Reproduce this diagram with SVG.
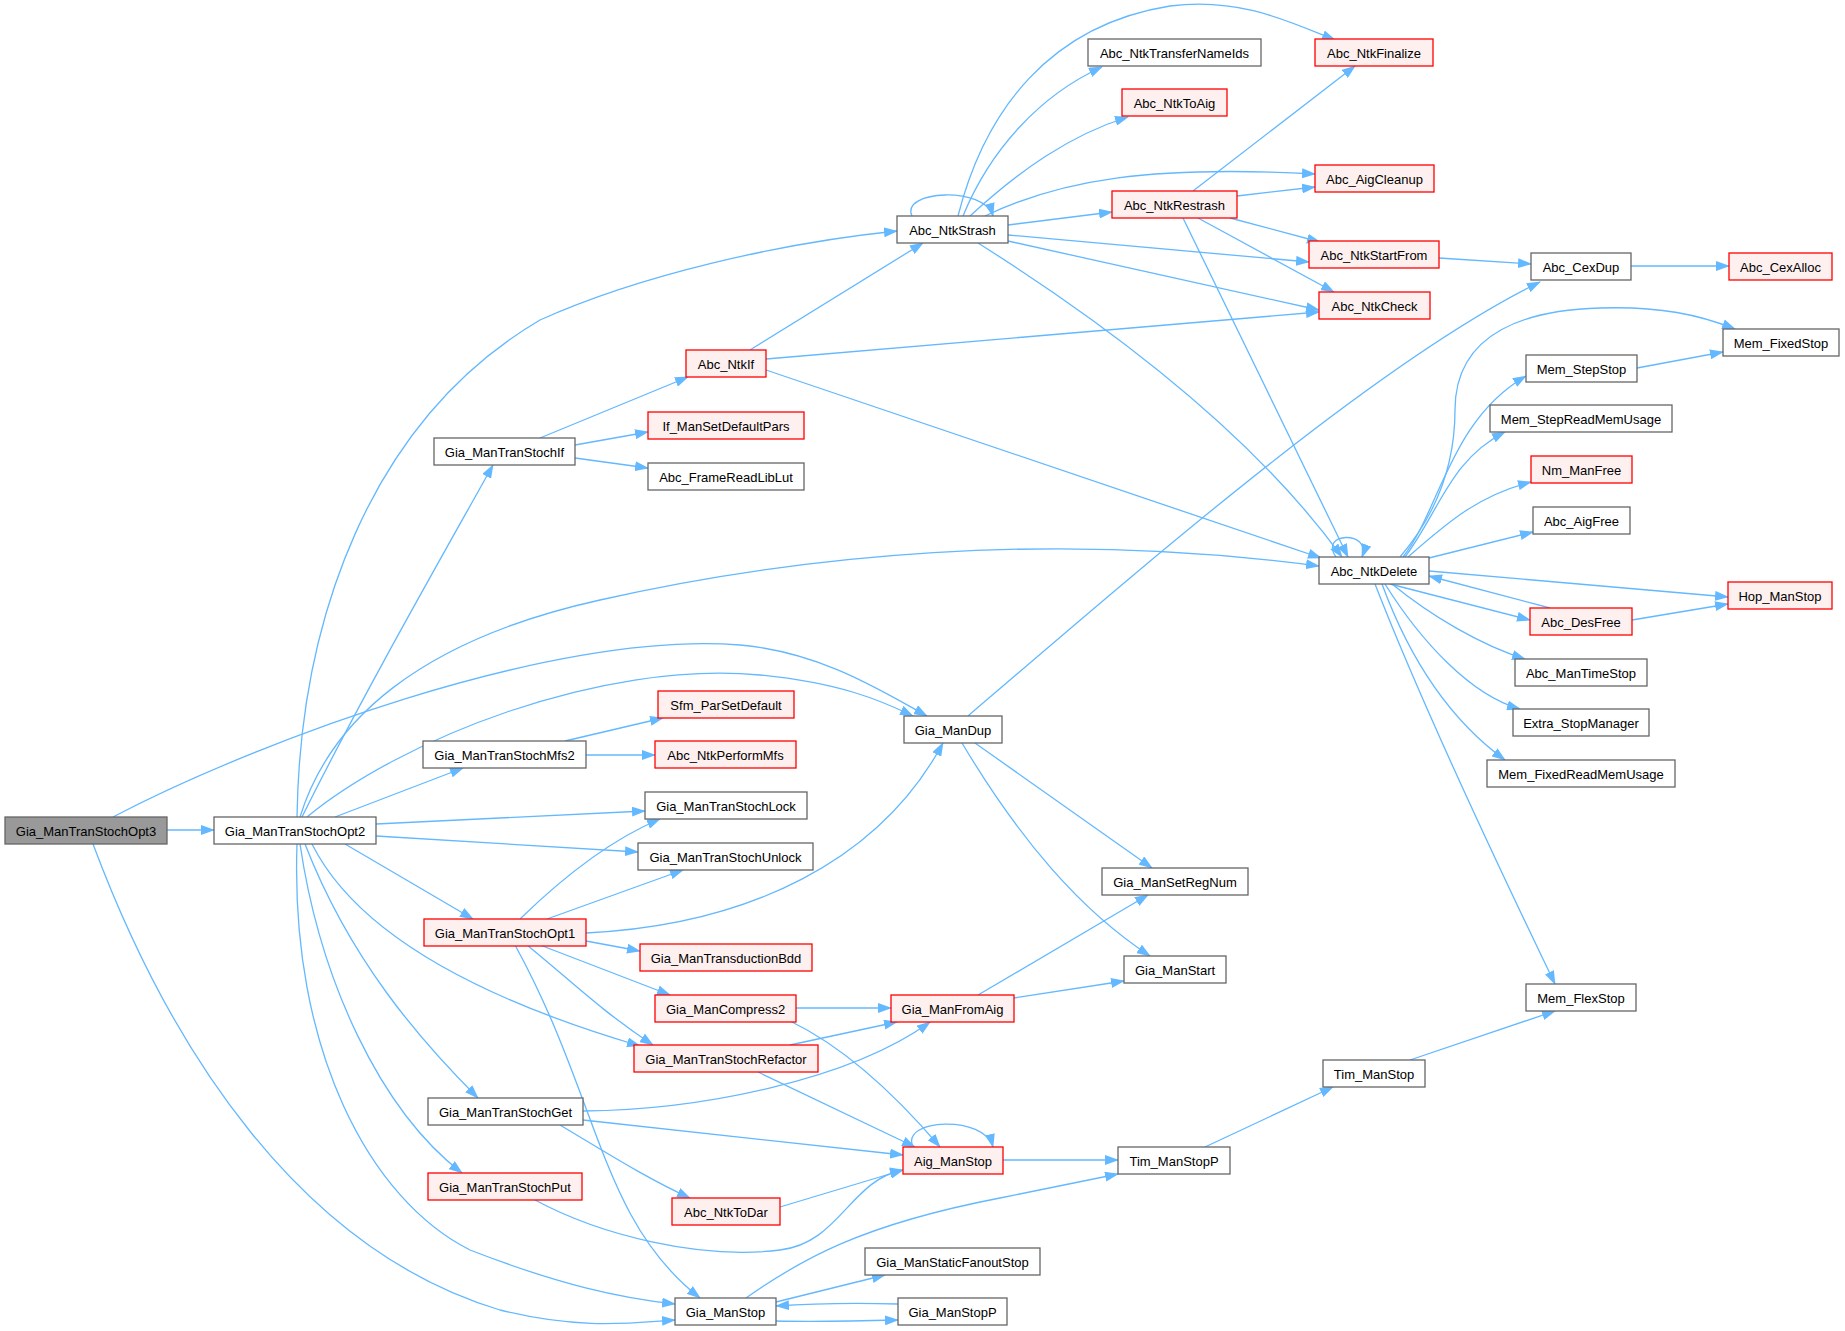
<svg xmlns="http://www.w3.org/2000/svg" width="1845" height="1331" viewBox="0 0 1845 1331">
<defs>
<marker id="a" markerUnits="userSpaceOnUse" markerWidth="14" markerHeight="10" refX="13" refY="5" orient="auto"><path d="M0,0 L14,5 L0,10 z" fill="#63B8FF"/></marker>
<style>
.node rect{fill:#fff;stroke:#666;stroke-width:1.3}
.red rect{fill:#FFF0F0;stroke:#FF0000}
.root rect{fill:#999}
.node text{font-family:"Liberation Sans",Arial,Helvetica,sans-serif;font-size:13px;text-anchor:middle;fill:#000}
#edges path{fill:none;stroke:#63B8FF;stroke-width:1.3;marker-end:url(#a)}
</style>
</defs>
<rect width="1845" height="1331" fill="#fff"/>
<g id="edges">
<path d="M167,830 L214,830"/>
<path d="M113,817 C250,745 550,630 740,645 C820,652 880,690 927,716"/>
<path d="M307,817 C400,740 600,660 760,675 C840,683 880,700 913,716"/>
<path d="M300,817 C330,720 420,640 600,600 C800,555 1050,530 1319,566"/>
<path d="M297,817 C300,620 370,420 540,320 C640,275 780,243 897,231"/>
<path d="M302,817 C360,700 440,560 493,465"/>
<path d="M335,817 L463,768"/>
<path d="M376,824 L645,811"/>
<path d="M376,836 L638,852"/>
<path d="M345,844 L473,919"/>
<path d="M312,844 C350,920 450,990 640,1046"/>
<path d="M305,844 C350,960 420,1040 478,1098"/>
<path d="M300,844 C320,980 380,1110 462,1173"/>
<path d="M297,844 C290,1050 370,1200 470,1250 C560,1285 620,1298 675,1304"/>
<path d="M93,844 C170,1050 300,1250 500,1310 C580,1330 630,1323 675,1320"/>
<path d="M520,919 C560,880 610,840 660,819"/>
<path d="M547,919 L683,870"/>
<path d="M586,933 C750,925 880,860 943,743"/>
<path d="M586,941 L640,951"/>
<path d="M540,945 L670,995"/>
<path d="M527,945 C570,980 600,1010 653,1045"/>
<path d="M515,945 C600,1100 600,1220 700,1298"/>
<path d="M796,1008 L891,1008"/>
<path d="M790,1021 C850,1050 900,1100 940,1147"/>
<path d="M790,1045 L897,1022"/>
<path d="M758,1072 L915,1147"/>
<path d="M583,1111 C700,1110 850,1080 930,1022"/>
<path d="M583,1120 L903,1155"/>
<path d="M560,1125 C610,1155 650,1180 690,1198"/>
<path d="M535,1200 C600,1235 700,1260 780,1250 C840,1243 850,1180 903,1170"/>
<path d="M780,1207 L903,1170"/>
<path d="M913,1147 C900,1118 985,1115 993,1147"/>
<path d="M1003,1160 L1118,1160"/>
<path d="M746,1298 C800,1260 860,1225 1000,1198 C1050,1188 1090,1180 1118,1174"/>
<path d="M776,1302 L885,1275"/>
<path d="M776,1321 C820,1322 860,1321 898,1320"/>
<path d="M898,1304 C860,1303 820,1303 776,1306"/>
<path d="M1205,1147 L1333,1087"/>
<path d="M1410,1060 L1555,1011"/>
<path d="M978,995 L1148,895"/>
<path d="M1014,998 L1124,981"/>
<path d="M968,716 C1150,560 1380,360 1540,282"/>
<path d="M975,743 L1152,868"/>
<path d="M962,743 C1020,840 1080,910 1150,956"/>
<path d="M565,741 L663,718"/>
<path d="M586,755 L655,755"/>
<path d="M540,438 L688,377"/>
<path d="M575,445 L648,432"/>
<path d="M575,458 L648,468"/>
<path d="M750,350 L923,243"/>
<path d="M766,359 L1319,312"/>
<path d="M766,370 L1321,558"/>
<path d="M912,216 C900,190 985,186 993,216"/>
<path d="M963,216 C990,150 1040,95 1102,67"/>
<path d="M970,216 C1020,170 1070,135 1128,117"/>
<path d="M958,216 C985,110 1050,25 1170,6 C1240,-3 1290,22 1335,40"/>
<path d="M985,216 C1060,180 1150,165 1315,174"/>
<path d="M1008,225 L1112,212"/>
<path d="M1008,235 L1309,262"/>
<path d="M1008,241 L1319,310"/>
<path d="M978,243 C1100,320 1250,430 1342,557"/>
<path d="M1193,191 L1355,66"/>
<path d="M1237,196 L1315,187"/>
<path d="M1230,218 L1320,242"/>
<path d="M1198,218 L1334,292"/>
<path d="M1183,218 L1348,557"/>
<path d="M1439,258 L1531,264"/>
<path d="M1631,266 L1729,266"/>
<path d="M1336,557 C1318,532 1372,530 1362,557"/>
<path d="M1400,557 C1440,510 1455,460 1455,410 C1455,330 1530,310 1600,308 C1660,306 1700,315 1735,329"/>
<path d="M1403,557 C1440,510 1450,420 1526,376"/>
<path d="M1405,557 C1440,510 1450,460 1505,432"/>
<path d="M1408,557 C1450,520 1480,495 1531,482"/>
<path d="M1429,558 L1533,532"/>
<path d="M1429,571 L1728,597"/>
<path d="M1390,584 L1530,620"/>
<path d="M1550,608 L1429,576"/>
<path d="M1392,584 C1430,615 1480,645 1525,659"/>
<path d="M1385,584 C1420,640 1470,695 1520,709"/>
<path d="M1382,584 C1410,660 1450,720 1505,760"/>
<path d="M1375,584 C1420,700 1500,870 1555,984"/>
<path d="M1632,620 L1728,604"/>
<path d="M1637,368 L1723,352"/>
</g>
<g id="n1" class="node root"><rect x="5" y="817" width="162" height="27"/><text x="86" y="835.5">Gia_ManTranStochOpt3</text></g>
<g id="n2" class="node"><rect x="214" y="817" width="162" height="27"/><text x="295" y="835.5">Gia_ManTranStochOpt2</text></g>
<g id="n3" class="node"><rect x="434" y="438" width="141" height="27"/><text x="504.5" y="456.5">Gia_ManTranStochIf</text></g>
<g id="n4" class="node red"><rect x="686" y="350" width="80" height="27"/><text x="726" y="368.5">Abc_NtkIf</text></g>
<g id="n5" class="node red"><rect x="648" y="412" width="156" height="27"/><text x="726" y="430.5">If_ManSetDefaultPars</text></g>
<g id="n6" class="node"><rect x="648" y="463" width="156" height="27"/><text x="726" y="481.5">Abc_FrameReadLibLut</text></g>
<g id="n7" class="node"><rect x="897" y="216" width="111" height="27"/><text x="952.5" y="234.5">Abc_NtkStrash</text></g>
<g id="n8" class="node"><rect x="1088" y="39" width="173" height="27"/><text x="1174.5" y="57.5">Abc_NtkTransferNameIds</text></g>
<g id="n9" class="node red"><rect x="1122" y="89" width="105" height="27"/><text x="1174.5" y="107.5">Abc_NtkToAig</text></g>
<g id="n10" class="node red"><rect x="1315" y="39" width="118" height="27"/><text x="1374" y="57.5">Abc_NtkFinalize</text></g>
<g id="n11" class="node red"><rect x="1112" y="191" width="125" height="27"/><text x="1174.5" y="209.5">Abc_NtkRestrash</text></g>
<g id="n12" class="node red"><rect x="1315" y="165" width="119" height="27"/><text x="1374.5" y="183.5">Abc_AigCleanup</text></g>
<g id="n13" class="node red"><rect x="1309" y="241" width="130" height="27"/><text x="1374" y="259.5">Abc_NtkStartFrom</text></g>
<g id="n14" class="node red"><rect x="1319" y="292" width="111" height="27"/><text x="1374.5" y="310.5">Abc_NtkCheck</text></g>
<g id="n15" class="node"><rect x="1531" y="253" width="100" height="27"/><text x="1581" y="271.5">Abc_CexDup</text></g>
<g id="n16" class="node red"><rect x="1729" y="253" width="103" height="27"/><text x="1780.5" y="271.5">Abc_CexAlloc</text></g>
<g id="n17" class="node"><rect x="1723" y="329" width="116" height="27"/><text x="1781" y="347.5">Mem_FixedStop</text></g>
<g id="n18" class="node"><rect x="1526" y="355" width="111" height="27"/><text x="1581.5" y="373.5">Mem_StepStop</text></g>
<g id="n19" class="node"><rect x="1490" y="405" width="182" height="27"/><text x="1581" y="423.5">Mem_StepReadMemUsage</text></g>
<g id="n20" class="node red"><rect x="1531" y="456" width="101" height="27"/><text x="1581.5" y="474.5">Nm_ManFree</text></g>
<g id="n21" class="node"><rect x="1533" y="507" width="97" height="27"/><text x="1581.5" y="525.5">Abc_AigFree</text></g>
<g id="n22" class="node"><rect x="1319" y="557" width="110" height="27"/><text x="1374" y="575.5">Abc_NtkDelete</text></g>
<g id="n23" class="node red"><rect x="1728" y="582" width="104" height="27"/><text x="1780" y="600.5">Hop_ManStop</text></g>
<g id="n24" class="node red"><rect x="1530" y="608" width="102" height="27"/><text x="1581" y="626.5">Abc_DesFree</text></g>
<g id="n25" class="node"><rect x="1515" y="659" width="132" height="27"/><text x="1581" y="677.5">Abc_ManTimeStop</text></g>
<g id="n26" class="node"><rect x="1513" y="709" width="136" height="27"/><text x="1581" y="727.5">Extra_StopManager</text></g>
<g id="n27" class="node"><rect x="1487" y="760" width="188" height="27"/><text x="1581" y="778.5">Mem_FixedReadMemUsage</text></g>
<g id="n28" class="node"><rect x="1526" y="984" width="110" height="27"/><text x="1581" y="1002.5">Mem_FlexStop</text></g>
<g id="n29" class="node"><rect x="1323" y="1060" width="102" height="27"/><text x="1374" y="1078.5">Tim_ManStop</text></g>
<g id="n30" class="node"><rect x="1118" y="1147" width="112" height="27"/><text x="1174" y="1165.5">Tim_ManStopP</text></g>
<g id="n31" class="node"><rect x="904" y="716" width="98" height="27"/><text x="953" y="734.5">Gia_ManDup</text></g>
<g id="n32" class="node red"><rect x="658" y="691" width="136" height="27"/><text x="726" y="709.5">Sfm_ParSetDefault</text></g>
<g id="n33" class="node"><rect x="423" y="741" width="163" height="27"/><text x="504.5" y="759.5">Gia_ManTranStochMfs2</text></g>
<g id="n34" class="node red"><rect x="655" y="741" width="141" height="27"/><text x="725.5" y="759.5">Abc_NtkPerformMfs</text></g>
<g id="n35" class="node"><rect x="645" y="792" width="162" height="27"/><text x="726" y="810.5">Gia_ManTranStochLock</text></g>
<g id="n36" class="node"><rect x="638" y="843" width="175" height="27"/><text x="725.5" y="861.5">Gia_ManTranStochUnlock</text></g>
<g id="n37" class="node red"><rect x="424" y="919" width="162" height="27"/><text x="505" y="937.5">Gia_ManTranStochOpt1</text></g>
<g id="n38" class="node red"><rect x="640" y="944" width="172" height="27"/><text x="726" y="962.5">Gia_ManTransductionBdd</text></g>
<g id="n39" class="node"><rect x="1102" y="868" width="146" height="27"/><text x="1175" y="886.5">Gia_ManSetRegNum</text></g>
<g id="n40" class="node"><rect x="1124" y="956" width="102" height="27"/><text x="1175" y="974.5">Gia_ManStart</text></g>
<g id="n41" class="node red"><rect x="655" y="995" width="141" height="27"/><text x="725.5" y="1013.5">Gia_ManCompress2</text></g>
<g id="n42" class="node red"><rect x="891" y="995" width="123" height="27"/><text x="952.5" y="1013.5">Gia_ManFromAig</text></g>
<g id="n43" class="node red"><rect x="634" y="1045" width="184" height="27"/><text x="726" y="1063.5">Gia_ManTranStochRefactor</text></g>
<g id="n44" class="node"><rect x="428" y="1098" width="155" height="27"/><text x="505.5" y="1116.5">Gia_ManTranStochGet</text></g>
<g id="n45" class="node red"><rect x="903" y="1147" width="100" height="27"/><text x="953" y="1165.5">Aig_ManStop</text></g>
<g id="n46" class="node red"><rect x="428" y="1173" width="154" height="27"/><text x="505" y="1191.5">Gia_ManTranStochPut</text></g>
<g id="n47" class="node red"><rect x="672" y="1198" width="108" height="27"/><text x="726" y="1216.5">Abc_NtkToDar</text></g>
<g id="n48" class="node"><rect x="865" y="1248" width="175" height="27"/><text x="952.5" y="1266.5">Gia_ManStaticFanoutStop</text></g>
<g id="n49" class="node"><rect x="675" y="1298" width="101" height="27"/><text x="725.5" y="1316.5">Gia_ManStop</text></g>
<g id="n50" class="node"><rect x="898" y="1298" width="109" height="27"/><text x="952.5" y="1316.5">Gia_ManStopP</text></g>
</svg>
